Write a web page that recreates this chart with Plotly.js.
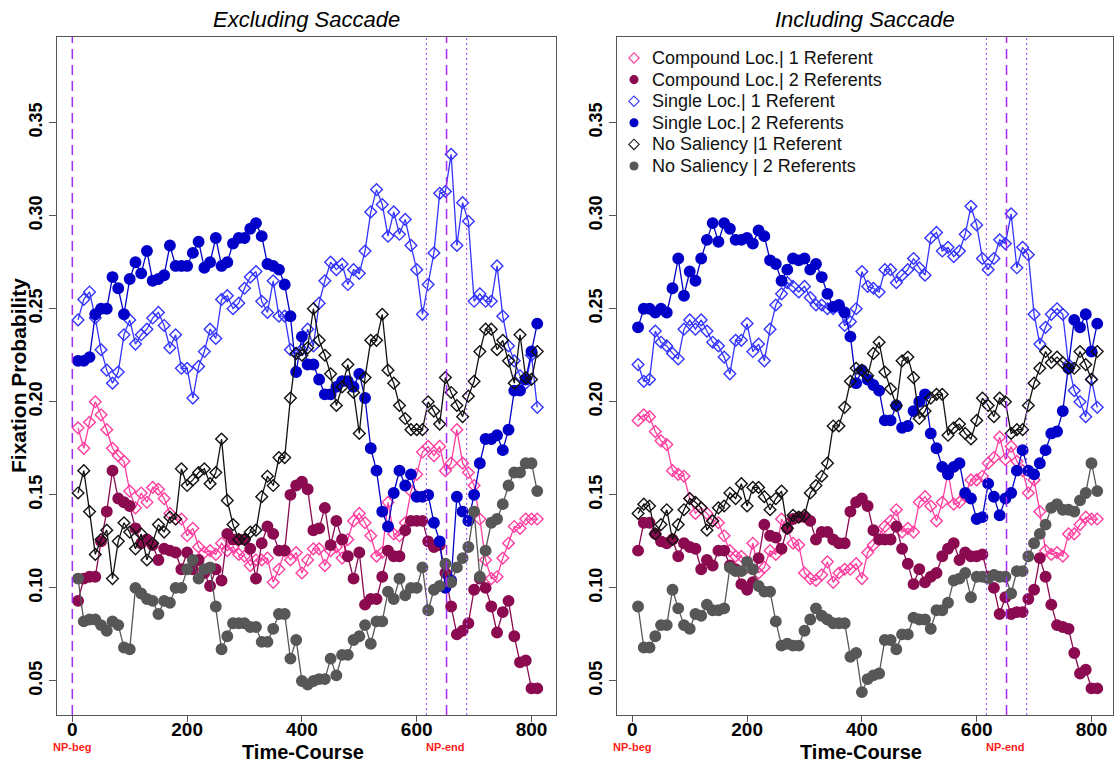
<!DOCTYPE html>
<html>
<head>
<meta charset="utf-8">
<script src="https://cdn.plot.ly/plotly-3.0.1.min.js"></script>
<style>
  html, body { margin: 0; padding: 0; background: #fff; }
  #chart { width: 1115px; height: 763px; }
</style>
</head>
<body>
<div id="chart"></div>
<script>
// Time steps (ms) shared by every series
const timeSteps = [10,20,30,40,50,60,70,80,90,100,110,120,130,140,150,160,170,180,190,200,
  210,220,230,240,250,260,270,280,290,300,310,320,330,340,350,360,370,380,390,400,
  410,420,430,440,450,460,470,480,490,500,510,520,530,540,550,560,570,580,590,600,
  610,620,630,640,650,660,670,680,690,700,710,720,730,740,750,760,770,780,790,800,810];

const seriesNames = ["Compound Loc.| 1 Referent", "Compound Loc.| 2 Referents",
  "Single Loc.| 1 Referent", "Single Loc.| 2 Referents",
  "No Saliency |1 Referent", "No Saliency | 2 Referents"];

const panelTitles = ["Excluding Saccade", "Including Saccade"];
const xTicks = [0, 200, 400, 600, 800];
const yTicks = [0.05, 0.10, 0.15, 0.20, 0.25, 0.30, 0.35];
const npBeg = 0, npEnd = 652, npWindow = 35;

// ---- Excluding saccade ----
const exCompound1 = [0.186,0.175,0.189,0.200,0.193,0.185,0.175,0.171,0.168,0.152,
  0.143,0.151,0.146,0.154,0.153,0.148,0.140,0.137,0.137,0.128,
  0.132,0.122,0.119,0.120,0.118,0.124,0.120,0.122,0.118,0.117,
  0.112,0.115,0.115,0.116,0.103,0.110,0.120,0.115,0.119,0.108,
  0.115,0.121,0.121,0.112,0.120,0.122,0.116,0.126,0.136,0.140,
  0.135,0.128,0.117,0.119,0.146,0.129,0.128,0.135,0.152,0.161,
  0.173,0.176,0.171,0.176,0.163,0.167,0.185,0.167,0.162,0.155,
  0.137,0.115,0.105,0.106,0.116,0.124,0.133,0.132,0.137,0.137,0.137];
const exCompound2 = [0.093,0.105,0.106,0.106,0.125,0.141,0.163,0.148,0.146,0.144,
  0.132,0.124,0.126,0.123,0.115,0.121,0.120,0.119,0.110,0.119,
  0.110,0.115,0.108,0.101,0.110,0.104,0.129,0.126,0.126,0.126,
  0.121,0.105,0.124,0.133,0.129,0.120,0.120,0.150,0.155,0.157,
  0.153,0.131,0.132,0.143,0.123,0.136,0.126,0.117,0.105,0.119,
  0.091,0.094,0.094,0.106,0.120,0.117,0.117,0.131,0.136,0.136,
  0.136,0.125,0.122,0.123,0.108,0.090,0.075,0.077,0.081,0.099,
  0.105,0.100,0.090,0.076,0.087,0.093,0.074,0.060,0.061,0.046,0.046];
const exSingle1 = [0.244,0.255,0.259,0.245,0.228,0.217,0.210,0.216,0.236,0.244,
  0.231,0.236,0.239,0.245,0.248,0.241,0.229,0.236,0.218,0.218,
  0.202,0.219,0.227,0.239,0.234,0.255,0.257,0.250,0.253,0.261,
  0.267,0.270,0.254,0.248,0.265,0.246,0.246,0.228,0.226,0.228,
  0.239,0.230,0.253,0.265,0.275,0.271,0.274,0.263,0.271,0.269,
  0.281,0.302,0.314,0.306,0.289,0.302,0.290,0.298,0.284,0.271,
  0.247,0.263,0.280,0.312,0.313,0.333,0.284,0.307,0.297,0.254,
  0.258,0.254,0.254,0.273,0.246,0.230,0.222,0.214,0.210,0.225,0.197];
const exSingle2 = [0.222,0.222,0.224,0.247,0.250,0.250,0.267,0.261,0.247,0.266,
  0.275,0.269,0.281,0.265,0.266,0.268,0.284,0.273,0.273,0.273,
  0.280,0.286,0.272,0.275,0.288,0.273,0.275,0.285,0.288,0.288,
  0.293,0.296,0.289,0.274,0.273,0.271,0.263,0.246,0.216,0.235,
  0.220,0.220,0.212,0.204,0.204,0.208,0.211,0.211,0.208,0.215,
  0.202,0.175,0.163,0.141,0.133,0.151,0.163,0.155,0.161,0.149,
  0.149,0.150,0.135,0.125,0.100,0.104,0.149,0.141,0.136,0.150,
  0.167,0.180,0.180,0.182,0.174,0.185,0.206,0.206,0.212,0.227,0.242];
const exNoSal1 = [0.151,0.163,0.141,0.118,0.126,0.131,0.105,0.125,0.135,0.130,
  0.121,0.129,0.115,0.124,0.134,0.130,0.138,0.137,0.164,0.155,
  0.158,0.162,0.164,0.156,0.162,0.180,0.147,0.134,0.126,0.126,
  0.130,0.131,0.149,0.160,0.155,0.170,0.170,0.202,0.226,0.225,
  0.229,0.250,0.233,0.225,0.215,0.198,0.208,0.220,0.205,0.183,
  0.213,0.233,0.233,0.247,0.217,0.210,0.198,0.191,0.185,0.185,
  0.185,0.200,0.195,0.188,0.213,0.205,0.198,0.192,0.203,0.211,
  0.227,0.239,0.239,0.228,0.233,0.222,0.210,0.236,0.213,0.212,0.227];
const exNoSal2 = [0.105,0.082,0.083,0.083,0.080,0.077,0.082,0.080,0.068,0.067,
  0.100,0.097,0.094,0.093,0.086,0.093,0.092,0.100,0.100,0.110,
  0.115,0.105,0.110,0.111,0.090,0.067,0.074,0.081,0.081,0.081,
  0.079,0.079,0.071,0.071,0.078,0.086,0.086,0.062,0.072,0.050,
  0.048,0.050,0.051,0.051,0.062,0.053,0.064,0.064,0.072,0.074,
  0.080,0.070,0.082,0.082,0.098,0.094,0.105,0.096,0.100,0.100,
  0.111,0.088,0.099,0.101,0.113,0.103,0.111,0.116,0.122,0.141,
  0.106,0.120,0.135,0.137,0.145,0.155,0.162,0.162,0.167,0.167,0.152];

// ---- Including saccade ----
const inCompound1 = [0.190,0.193,0.192,0.184,0.179,0.177,0.163,0.161,0.160,0.148,
  0.140,0.143,0.140,0.136,0.135,0.128,0.120,0.117,0.117,0.111,
  0.124,0.108,0.111,0.120,0.118,0.137,0.132,0.124,0.123,0.108,
  0.105,0.104,0.107,0.114,0.103,0.108,0.110,0.110,0.113,0.105,
  0.119,0.123,0.128,0.133,0.136,0.142,0.130,0.132,0.130,0.146,
  0.149,0.144,0.136,0.146,0.162,0.145,0.146,0.150,0.158,0.158,
  0.160,0.167,0.170,0.181,0.169,0.176,0.168,0.163,0.151,0.158,
  0.141,0.120,0.118,0.119,0.117,0.129,0.129,0.134,0.138,0.137,0.137];
const inCompound2 = [0.120,0.135,0.135,0.129,0.125,0.124,0.126,0.117,0.124,0.122,
  0.121,0.110,0.115,0.112,0.120,0.120,0.112,0.110,0.102,0.099,
  0.103,0.116,0.134,0.128,0.127,0.121,0.132,0.137,0.138,0.138,
  0.136,0.126,0.130,0.130,0.126,0.124,0.124,0.141,0.146,0.148,
  0.144,0.131,0.126,0.126,0.126,0.133,0.121,0.113,0.102,0.110,
  0.103,0.106,0.108,0.117,0.121,0.124,0.115,0.119,0.117,0.117,
  0.118,0.106,0.100,0.086,0.095,0.086,0.087,0.087,0.094,0.099,
  0.116,0.106,0.091,0.080,0.079,0.078,0.065,0.054,0.056,0.046,0.046];
const inSingle1 = [0.220,0.211,0.212,0.238,0.232,0.230,0.226,0.223,0.239,0.244,
  0.239,0.244,0.238,0.232,0.230,0.224,0.215,0.233,0.233,0.242,
  0.227,0.231,0.222,0.239,0.252,0.258,0.264,0.262,0.259,0.262,
  0.256,0.252,0.252,0.250,0.250,0.251,0.241,0.243,0.250,0.270,
  0.262,0.261,0.259,0.271,0.271,0.264,0.268,0.271,0.277,0.272,
  0.268,0.288,0.291,0.281,0.283,0.278,0.281,0.290,0.305,0.295,
  0.277,0.271,0.277,0.287,0.285,0.301,0.272,0.283,0.279,0.247,
  0.231,0.240,0.247,0.250,0.247,0.220,0.206,0.200,0.192,0.212,0.197];
const inSingle2 = [0.240,0.250,0.250,0.248,0.250,0.248,0.261,0.277,0.257,0.270,
  0.265,0.277,0.287,0.296,0.286,0.296,0.293,0.287,0.287,0.288,
  0.285,0.292,0.289,0.276,0.274,0.265,0.271,0.277,0.276,0.277,
  0.271,0.274,0.267,0.258,0.251,0.252,0.248,0.235,0.210,0.217,
  0.212,0.209,0.206,0.190,0.190,0.198,0.186,0.187,0.195,0.200,
  0.204,0.183,0.175,0.165,0.161,0.165,0.167,0.151,0.148,0.137,
  0.138,0.156,0.149,0.139,0.148,0.151,0.163,0.174,0.163,0.161,
  0.167,0.174,0.183,0.184,0.195,0.218,0.244,0.240,0.247,0.227,0.242];
const inNoSal1 = [0.140,0.145,0.144,0.129,0.134,0.142,0.126,0.134,0.142,0.148,
  0.146,0.143,0.131,0.136,0.143,0.144,0.151,0.148,0.156,0.144,
  0.154,0.154,0.149,0.142,0.148,0.152,0.132,0.139,0.138,0.139,
  0.151,0.155,0.160,0.167,0.187,0.187,0.197,0.211,0.218,0.217,
  0.214,0.226,0.232,0.216,0.207,0.198,0.222,0.224,0.213,0.191,
  0.195,0.202,0.204,0.204,0.182,0.186,0.188,0.183,0.180,0.190,
  0.202,0.198,0.192,0.202,0.200,0.183,0.185,0.185,0.198,0.210,
  0.218,0.227,0.221,0.224,0.221,0.218,0.218,0.227,0.220,0.212,0.227];
const inNoSal2 = [0.090,0.068,0.068,0.074,0.080,0.080,0.099,0.089,0.080,0.078,
  0.086,0.085,0.091,0.088,0.088,0.089,0.111,0.109,0.109,0.114,
  0.110,0.101,0.098,0.098,0.082,0.069,0.070,0.069,0.069,0.077,
  0.083,0.089,0.085,0.083,0.081,0.081,0.081,0.063,0.065,0.044,
  0.051,0.053,0.054,0.072,0.072,0.067,0.075,0.075,0.084,0.083,
  0.083,0.078,0.088,0.088,0.092,0.104,0.105,0.108,0.095,0.106,
  0.106,0.105,0.107,0.106,0.106,0.097,0.109,0.109,0.117,0.124,
  0.129,0.134,0.143,0.145,0.142,0.142,0.141,0.147,0.151,0.167,0.152];

// Visual style of each series (same order as seriesNames)
const styles = [
  {color: "#FF3EA0", symbol: "diamond-open", size: 9},
  {color: "#8B0A50", symbol: "circle", size: 10.5},
  {color: "#3434FF", symbol: "diamond-open", size: 9},
  {color: "#0000C8", symbol: "circle", size: 10.5},
  {color: "#111111", symbol: "diamond-open", size: 9},
  {color: "#575757", symbol: "circle", size: 10.5}
];

const FONT = "Liberation Sans, Arial, Helvetica, sans-serif";
const panels = [
  {xa: "x", ya: "y", data: [exCompound1, exCompound2, exSingle1, exSingle2, exNoSal1, exNoSal2]},
  {xa: "x2", ya: "y2", data: [inCompound1, inCompound2, inSingle1, inSingle2, inNoSal1, inNoSal2]}
];

const traces = [];
panels.forEach(p => {
  p.data.forEach((vals, k) => {
    const s = styles[k];
    traces.push({
      type: "scatter", mode: "lines+markers",
      x: timeSteps, y: vals, xaxis: p.xa, yaxis: p.ya,
      name: seriesNames[k], showlegend: false, hoverinfo: "skip",
      line: {color: s.color, width: 1.3},
      marker: {color: s.color, symbol: s.symbol, size: s.size,
               line: {color: s.color, width: 1.4}}
    });
  });
});

const plotW = 1115 - 57 - 2;
const plotH = 763 - 37 - 48;
const dom1 = [0, 499 / plotW];
const dom2 = [560 / plotW, 1];
const panelW2 = plotW - 560;

// Legend key in the top-left corner of the right panel, on hidden 0..1 axes laid over it
const legendRowH = 21.6, legendTop = 21, legendSymX = 17, legendTextX = 33;
const annotations = [];
seriesNames.forEach((nm, k) => {
  const s = styles[k];
  const yk = 1 - (legendTop + k * legendRowH) / plotH;
  traces.push({
    type: "scatter", mode: "markers", x: [legendSymX / panelW2], y: [yk],
    xaxis: "x3", yaxis: "y3", showlegend: false, hoverinfo: "skip",
    marker: {color: s.color, symbol: s.symbol, size: 8,
             line: {color: s.color, width: 1.1}}
  });
  annotations.push({
    text: nm, xref: "x3", yref: "y3", x: legendTextX / panelW2, y: yk,
    xanchor: "left", yanchor: "middle", showarrow: false,
    font: {family: FONT, size: 18, color: "#111"}
  });
});

const xRange = [-26.7, 842.7];
const xRange2 = [-26.7, 837.5];
const yRange = [0.0317, 0.396];

function xAxis(domain, range, anchor) {
  return {
    domain: domain, range: range, anchor: anchor,
    tickmode: "array", tickvals: xTicks, ticktext: xTicks.map(String),
    ticks: "outside", ticklen: 6, tickwidth: 1, tickcolor: "#555",
    ticklabelstandoff: -9,
    tickfont: {family: FONT, size: 19, color: "#000", weight: "bold"},
    showline: true, mirror: true, linecolor: "#555", linewidth: 1,
    showgrid: false, zeroline: false, fixedrange: true
  };
}
function yAxis(anchor) {
  return {
    range: yRange, anchor: anchor, domain: [0, 1],
    tickmode: "array", tickvals: yTicks, ticktext: yTicks.map(v => v.toFixed(2)),
    tickangle: -90,
    ticks: "outside", ticklen: 7, tickwidth: 1, tickcolor: "#555",
    tickfont: {family: FONT, size: 18, color: "#000", weight: "bold"},
    showline: true, mirror: true, linecolor: "#555", linewidth: 1,
    showgrid: false, zeroline: false, fixedrange: true
  };
}

// Reference lines: NP onset (left panel only) and NP offset with its window
const shapes = [];
const purple = "#A42BF2";
function vline(xref, yref, x, dash, width, color) {
  shapes.push({type: "line", xref: xref, yref: yref + " domain", x0: x, x1: x, y0: 0, y1: 1,
               line: {color: color, width: width, dash: dash}, layer: "above"});
}
vline("x", "y", npBeg, "10px,6px", 1.5, purple);
[["x", "y"], ["x2", "y2"]].forEach(([xr, yr]) => {
  vline(xr, yr, npEnd - npWindow, "2px,3px", 1.2, "#A65CF0");
  vline(xr, yr, npEnd, "10px,6px", 1.5, purple);
  vline(xr, yr, npEnd + npWindow, "2px,3px", 1.2, "#A65CF0");
});

[["x", dom1], ["x2", dom2]].forEach(([xr, dom], i) => {
  annotations.push({
    text: "<i>" + panelTitles[i] + "</i>", xref: "paper", yref: "paper",
    x: (dom[0] + dom[1]) / 2, y: 1 + 17 / plotH, xanchor: "center", yanchor: "middle",
    showarrow: false, font: {family: FONT, size: 22, color: "#000"}
  });
  annotations.push({
    text: "<b>Time-Course</b>", xref: "paper", yref: "paper",
    x: (dom[0] + dom[1]) / 2 - 4 / plotW, y: -37 / plotH, xanchor: "center", yanchor: "middle",
    showarrow: false, font: {family: FONT, size: 20, color: "#000"}
  });
  annotations.push({
    text: "<b>NP-beg</b>", xref: xr, yref: "paper", x: npBeg, y: -32 / plotH,
    xanchor: "center", yanchor: "middle", showarrow: false,
    font: {family: FONT, size: 11, color: "#FF1A1A"}
  });
  annotations.push({
    text: "<b>NP-end</b>", xref: xr, yref: "paper", x: npEnd - 2, y: -32 / plotH,
    xanchor: "center", yanchor: "middle", showarrow: false,
    font: {family: FONT, size: 11, color: "#FF1A1A"}
  });
});
annotations.push({
  text: "<b>Fixation Probability</b>", xref: "paper", yref: "paper",
  x: -39 / plotW, y: 0.5, xanchor: "center", yanchor: "middle", textangle: -90,
  showarrow: false, font: {family: FONT, size: 21, color: "#000"}
});

const layout = {
  width: 1115, height: 763,
  margin: {l: 57, r: 2, t: 37, b: 48},
  paper_bgcolor: "#fff", plot_bgcolor: "#fff",
  font: {family: FONT, color: "#000"},
  xaxis: xAxis(dom1, xRange, "y"),
  yaxis: yAxis("x"),
  xaxis2: xAxis(dom2, xRange2, "y2"),
  yaxis2: yAxis("x2"),
  xaxis3: {overlaying: "x2", range: [0, 1], anchor: "y3", visible: false, fixedrange: true},
  yaxis3: {overlaying: "y2", range: [0, 1], anchor: "x3", visible: false, fixedrange: true},
  showlegend: false,
  shapes: shapes,
  annotations: annotations
};

Plotly.newPlot("chart", traces, layout, {displayModeBar: false, staticPlot: true});
</script>
</body>
</html>
